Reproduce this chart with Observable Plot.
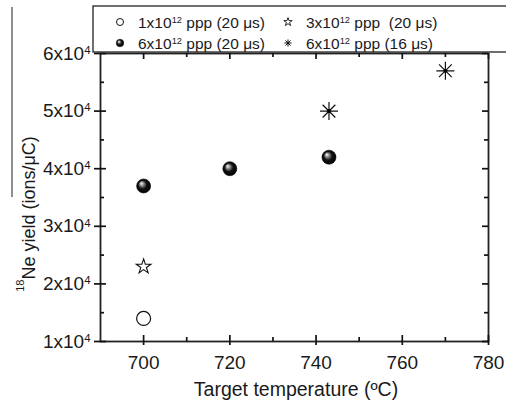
<!DOCTYPE html>
<html><head><meta charset="utf-8">
<script src="https://cdn.jsdelivr.net/npm/d3@7"></script>
<script src="https://cdn.jsdelivr.net/npm/@observablehq/plot@0.6"></script>
<style>body{margin:0;background:#fff} svg{display:block}</style>
</head><body><div id="chart"></div><script>
// ---- data ----
const seriesNames = ["1x10^12 ppp (20 μs)", "3x10^12 ppp  (20 μs)", "6x10^12 ppp (20 μs)", "6x10^12 ppp (16 μs)"];
const temp1 = [700], yield1 = [14000];
const temp3 = [700], yield3 = [23000];
const temp6 = [700, 720, 743], yield6 = [37000, 40000, 42000];
const temp6b = [743, 770], yield6b = [50000, 57000];
const xMajor = [700, 720, 740, 760, 780];
const xMinor = [710, 730, 750, 770];
const yMajor = [10000, 20000, 30000, 40000, 50000, 60000];
const yMinor = [15000, 25000, 35000, 45000, 55000];
const xDomain = [690, 780], yDomain = [10000, 60000];
const xTitle = "Target temperature (ºC)";
const yTitleSup = "18", yTitleRest = "Ne yield (ions/μC)";

const rows = (xs, ys) => xs.map((x, i) => ({x, y: ys[i]}));

const asterisk8 = {
  draw(ctx, size) {
    const r = Math.sqrt(size / Math.PI);
    const d = r * Math.SQRT1_2;
    ctx.moveTo(-r, 0); ctx.lineTo(r, 0);
    ctx.moveTo(0, -r); ctx.lineTo(0, r);
    ctx.moveTo(-d, -d); ctx.lineTo(d, d);
    ctx.moveTo(-d, d); ctx.lineTo(d, -d);
  }
};

const W = 506, H = 405, mL = 100, mR = 18, mT = 53, mB = 64;
const FW = W - mL - mR, FH = H - mT - mB;
const tk = {stroke: "#111", strokeWidth: 1.7};

const svgEl = Plot.plot({
  width: W, height: H,
  marginLeft: mL, marginRight: mR, marginTop: mT, marginBottom: mB,
  style: {fontFamily: "'Liberation Sans', Arial, sans-serif", fontSize: "19px", color: "#1a1a1a", background: "#fff"},
  x: {domain: xDomain},
  y: {domain: yDomain},
  marks: [
    Plot.frame({stroke: "#222", strokeWidth: 1.8}),
    // bottom: inward part of all ticks, plus outward part of majors (axis)
    Plot.tickX(xMajor, {x: d => d, insetTop: FH - 6, ...tk}),
    Plot.tickX(xMinor, {x: d => d, insetTop: FH - 4, ...tk}),
    Plot.axisX({ticks: xMajor, tickSize: 4, tickPadding: 10, tickFormat: d => String(d), label: null, fontSize: 19, stroke: "#111", strokeWidth: 1.7}),
    // top: inward
    Plot.tickX(xMajor, {x: d => d, insetBottom: FH - 6, ...tk}),
    Plot.tickX(xMinor, {x: d => d, insetBottom: FH - 4, ...tk}),
    // left: crossing majors, inward minors
    Plot.tickY(yMajor, {y: d => d, insetRight: FW - 6, ...tk}),
    Plot.tickY(yMinor, {y: d => d, insetRight: FW - 4, ...tk}),
    Plot.axisY({ticks: yMajor, tickSize: 6, tickPadding: 4, tickFormat: d => `${d / 10000}x10^4`, label: null, fontSize: 19, stroke: "#111", strokeWidth: 1.7}),
    // right: inward
    Plot.tickY(yMajor, {y: d => d, insetLeft: FW - 6, ...tk}),
    Plot.tickY(yMinor, {y: d => d, insetLeft: FW - 4, ...tk}),
    Plot.dot(rows(temp1, yield1), {x: "x", y: "y", r: 7, stroke: "#111", strokeWidth: 1.2, fill: "none"}),
    Plot.dot(rows(temp3, yield3), {x: "x", y: "y", r: 4.6, symbol: "star", stroke: "#111", strokeWidth: 1.1, fill: "none"}),
    Plot.dot(rows(temp6, yield6), {x: "x", y: "y", r: 7, fill: "url(#ball)", stroke: "#000", strokeWidth: 0.6}),
    Plot.dot(rows(temp6b, yield6b), {x: "x", y: "y", r: 9, symbol: asterisk8, stroke: "#111", strokeWidth: 1.2, fill: "none"}),
    Plot.dot(rows(temp6b, yield6b), {x: "x", y: "y", r: 2, fill: "#000"})
  ]
});
document.getElementById("chart").appendChild(svgEl);
const svg = d3.select(svgEl);

// gradient for shaded balls
const grad = svg.insert("defs", ":first-child").append("radialGradient")
  .attr("id", "ball").attr("cx", "0.5").attr("cy", "0.5").attr("r", "0.55").attr("fx", "0.33").attr("fy", "0.3");
grad.append("stop").attr("offset", "0").attr("stop-color", "#ffffff");
grad.append("stop").attr("offset", "0.2").attr("stop-color", "#a8a8a8");
grad.append("stop").attr("offset", "0.55").attr("stop-color", "#111");
grad.append("stop").attr("offset", "1").attr("stop-color", "#000");

// superscripts in labels
function supify(sel) {
  sel.each(function () {
    const t = this.textContent;
    const m = t.match(/^(.*?)\^(\d+)(.*)$/);
    if (!m) return;
    const s = d3.select(this);
    s.text(null);
    s.append("tspan").text(m[1]);
    s.append("tspan").attr("dy", "-0.5em").attr("font-size", "0.6em").text(m[2]);
    if (m[3]) s.append("tspan").attr("dy", "0.3em").text(m[3]);
  });
}
supify(svg.selectAll("text"));

// axis titles
svg.append("text").attr("x", 296).attr("y", 396).attr("text-anchor", "middle")
  .attr("font-size", 19.5).attr("fill", "#1a1a1a").text(xTitle);
const yt = svg.append("text").attr("transform", "translate(31,214) rotate(-90)")
  .attr("text-anchor", "middle").attr("font-size", 18).attr("fill", "#1a1a1a");
yt.append("tspan").attr("font-size", 11).attr("dy", "-0.6em").text(yTitleSup);
yt.append("tspan").attr("dy", "0.6em").text(yTitleRest);
svg.append("line").attr("x1", 12).attr("x2", 12).attr("y1", 7).attr("y2", 197)
  .attr("stroke", "#333").attr("stroke-width", 1.1);

// legend
const lg = svg.append("g");
lg.append("rect").attr("x", 93).attr("y", 6).attr("width", 440).attr("height", 46)
  .attr("fill", "#fff").attr("stroke", "#222").attr("stroke-width", 1.3);
const legendPos = [[120, 22], [288, 22], [120, 43], [288, 43]];
const legendSym = [
  g => g.append("circle").attr("r", 3.5).attr("fill", "none").attr("stroke", "#111").attr("stroke-width", 1),
  g => g.append("path").attr("d", d3.symbol(d3.symbolStar, 22)()).attr("fill", "none").attr("stroke", "#111").attr("stroke-width", 0.9),
  g => g.append("circle").attr("r", 3.8).attr("fill", "url(#ball)").attr("stroke", "#000").attr("stroke-width", 0.4),
  g => g.append("path").attr("d", d3.symbol(asterisk8, 40)()).attr("fill", "none").attr("stroke", "#111").attr("stroke-width", 1)
];
seriesNames.forEach((name, i) => {
  const [sx, sy] = legendPos[i];
  const sg = lg.append("g").attr("transform", `translate(${sx},${sy})`);
  legendSym[i](sg);
  const t = lg.append("text").attr("x", sx + 18).attr("y", sy + 5.5).attr("font-size", 15.5)
    .attr("text-anchor", "start").attr("fill", "#1a1a1a")
    .attr("xml:space", "preserve").style("white-space", "pre").text(name);
  supify(t);
});
</script></body></html>
